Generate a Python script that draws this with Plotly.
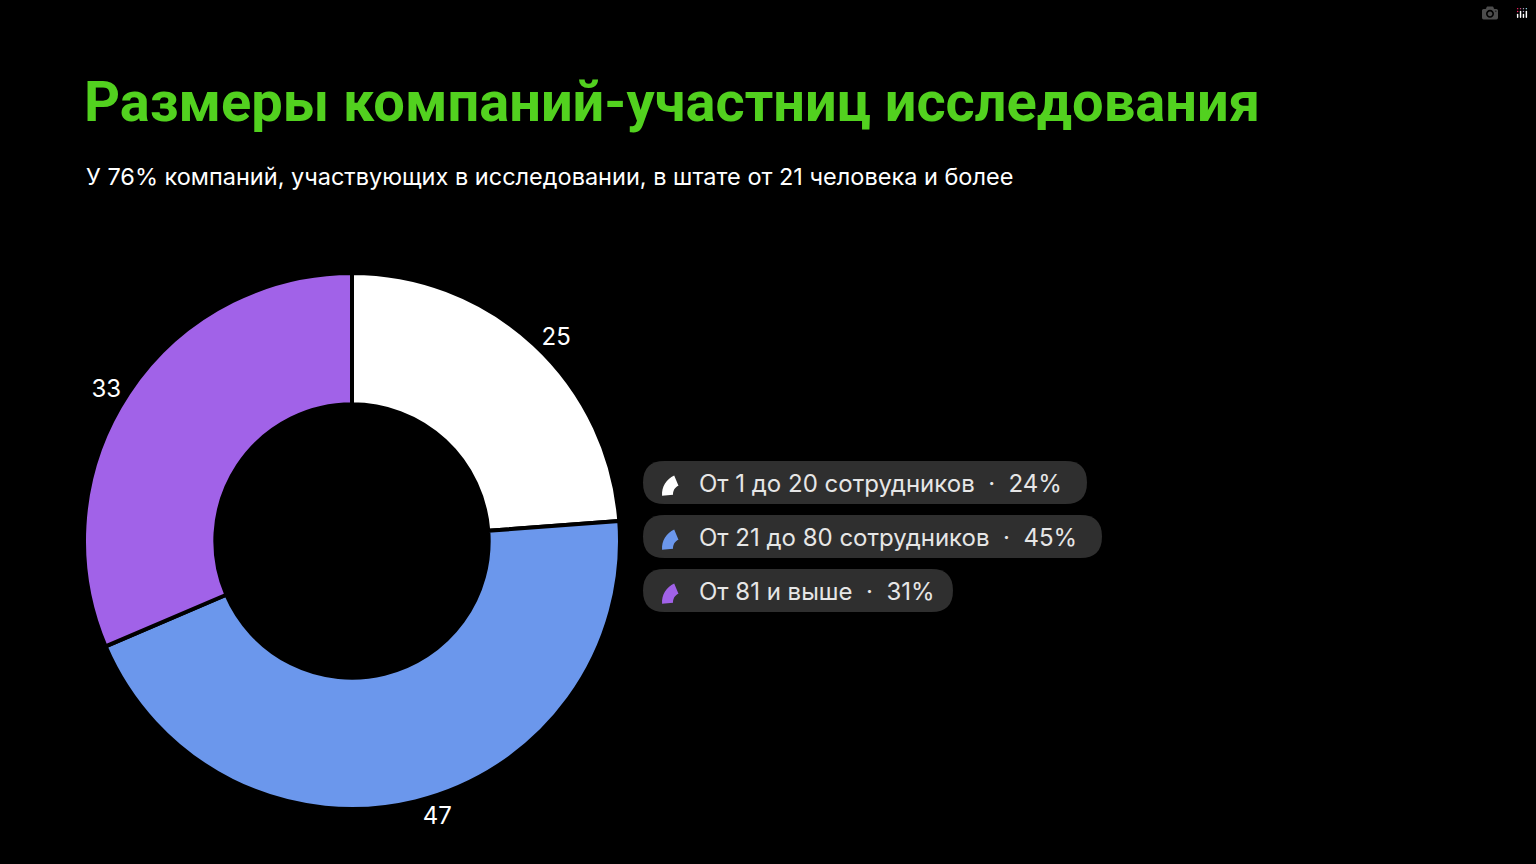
import plotly.graph_objects as go
import math

categories = ["От 1 до 20 сотрудников", "От 21 до 80 сотрудников", "От 81 и выше"]
values = [25, 47, 33]
colors = ["#ffffff", "#6b97ec", "#a162e8"]

W, H = 1536, 864
total = sum(values)
pcts = [round(v / total * 100) for v in values]

fig = go.Figure(go.Pie(
    labels=categories, values=values, hole=0.51, sort=False, direction="clockwise",
    rotation=0, marker=dict(colors=colors, line=dict(color="#000", width=4)),
    textinfo="value", textposition="outside",
    textfont=dict(family="Inter", size=24, color="#ffffff"),
    domain=dict(x=[84 / W, 620 / W], y=[1 - 809 / H, 1 - 273 / H]),
    showlegend=False, hoverinfo="label+value+percent",
))

def px(x): return x / W
def py(y): return 1 - y / H

shapes = []
annotations = []
pills = [(461, 1087), (515, 1102), (569, 953)]
for i, (cat, p) in enumerate(zip(categories, pcts)):
    top, right = pills[i]
    left, bot = 643, top + 43
    r = 21.5
    path = (f"M {px(left + r)},{py(top)} L {px(right - r)},{py(top)} "
            f"Q {px(right)},{py(top)} {px(right)},{py(top + r)} "
            f"Q {px(right)},{py(bot)} {px(right - r)},{py(bot)} "
            f"L {px(left + r)},{py(bot)} "
            f"Q {px(left)},{py(bot)} {px(left)},{py(top + r)} "
            f"Q {px(left)},{py(top)} {px(left + r)},{py(top)} Z")
    shapes.append(dict(type="path", xref="paper", yref="paper", path=path,
                       fillcolor="#2f2f2f", line=dict(width=0), layer="below"))
    cx, cy = 682, top + 33
    pts_o, pts_i = [], []
    for k in range(9):
        a = math.radians(-95 + k * 9)
        pts_o.append((cx + 20 * math.sin(a), cy - 20 * math.cos(a)))
        pts_i.append((cx + 9 * math.sin(a), cy - 9 * math.cos(a)))
    seq = pts_o + pts_i[::-1]
    ip = "M " + " L ".join(f"{px(x)},{py(y)}" for x, y in seq) + " Z"
    shapes.append(dict(type="path", xref="paper", yref="paper", path=ip,
                       fillcolor=colors[i], line=dict(width=0)))
    annotations.append(dict(xref="paper", yref="paper", x=px(697), y=py(top + 22),
                            xanchor="left", yanchor="middle", showarrow=False,
                            text=f"{cat}  ·  {p}%",
                            font=dict(family="Inter", size=24, color="#e6e6e6")))

annotations.append(dict(xref="paper", yref="paper", x=px(82), y=py(102), xanchor="left",
                        yanchor="middle", showarrow=False,
                        text="<b>Размеры компаний-участниц исследования</b>",
                        font=dict(family="Roboto", size=56, color="#52d11f")))
annotations.append(dict(xref="paper", yref="paper", x=px(84), y=py(176), xanchor="left",
                        yanchor="middle", showarrow=False,
                        text="У 76% компаний, участвующих в исследовании, в штате от 21 человека и более",
                        font=dict(family="Inter", size=23.5, color="#ffffff")))

fig.update_layout(paper_bgcolor="#000", plot_bgcolor="#000",
                  margin=dict(l=0, r=0, t=0, b=0), shapes=shapes, annotations=annotations)
fig.write_html("out.html")
with open("out.html", encoding="utf-8") as f:
    html = f.read()
html = html.replace("<head>", "<head><style>html,body{margin:0;padding:0;background:#000;height:100%;overflow:hidden}</style>", 1)
html = html.replace("height:100%; width:100%;", "height:100vh; width:100vw;")
with open("out.html", "w", encoding="utf-8") as f:
    f.write(html)
